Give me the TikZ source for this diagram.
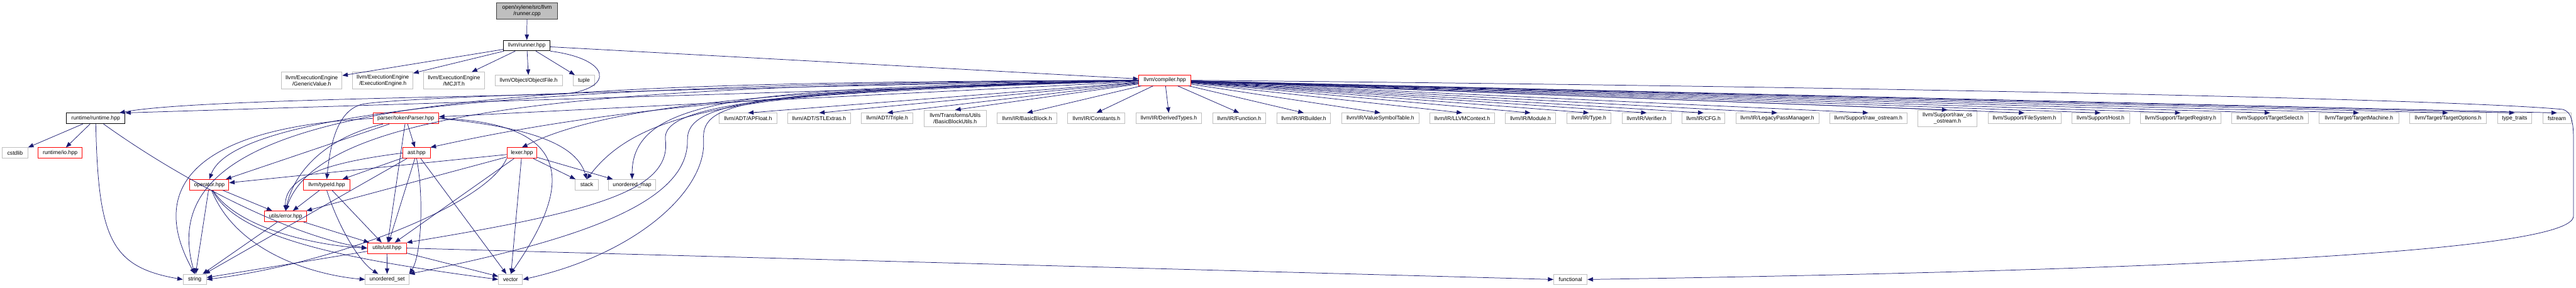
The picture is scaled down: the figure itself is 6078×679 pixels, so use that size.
\documentclass[tikz,border=0pt]{standalone}
\usepackage{fontspec}
\setmainfont{Liberation Sans}
\usepackage{xcolor}
\usetikzlibrary{positioning,arrows.meta}

\definecolor{grey75}{HTML}{BFBFBF}
\definecolor{edgeblue}{HTML}{191970}
\definecolor{rootedge}{HTML}{404040}

\begin{document}
\begin{tikzpicture}[x=1pt, y=-1pt, node distance=24pt,
  font=\fontsize{12.9}{15}\selectfont,
  hdr/.style={draw=#1, line width=1.3pt, fill=white, inner sep=0pt, minimum height=25pt, align=center},
  hdr/.default=grey75, two/.style={minimum height=39pt},
  arr/.style={draw=edgeblue, line width=1.1pt, -{Triangle[length=13pt, width=10pt]}}]
\useasboundingbox (0,0) rectangle (6078,679);
% top: the file and its header
\node[hdr=rootedge, fill=grey75, two, minimum width=143pt] (root) at (1243.5,25.5) {open/xylene/src/llvm\\/runner.cpp};
\node[hdr=black, minimum width=110pt] (run) at (1243,107.5) {llvm/runner.hpp};
\node[hdr, two, minimum width=143pt] (gv) at (735.5,190) {llvm/ExecutionEngine\\/GenericValue.h};
\node[hdr, two, minimum width=142pt, right=of gv] (ee) {llvm/ExecutionEngine\\/ExecutionEngine.h};
\node[hdr, two, minimum width=143pt, right=of ee] (mc) {llvm/ExecutionEngine\\/MCJIT.h};
\node[hdr, minimum width=159pt, right=of mc] (obj) {llvm/Object/ObjectFile.h};
\node[hdr, minimum width=51pt, right=of obj] (tup) {tuple};
\node[hdr=red, minimum width=123pt] (cmp) at (2748.5,189.5) {llvm/compiler.hpp};
% row of headers under compiler.hpp
\node[hdr=black, minimum width=138pt] (rt) at (226,279.5) {runtime/runtime.hpp};
\node[hdr=red, minimum width=155pt] (tok) at (957.5,279.5) {parser/tokenParser.hpp};
\node[hdr, minimum width=136pt] (apf) at (1765,279.5) {llvm/ADT/APFloat.h};
\node[hdr, minimum width=148pt, right=24.4pt of apf] (stl) {llvm/ADT/STLExtras.h};
\node[hdr, minimum width=122pt, right=24.4pt of stl] (tri) {llvm/ADT/Triple.h};
\node[hdr, two, minimum width=147pt, right=24.4pt of tri] (bbu) {llvm/Transforms/Utils\\/BasicBlockUtils.h};
\node[hdr, minimum width=141pt, right=24.4pt of bbu] (bb) {llvm/IR/BasicBlock.h};
\node[hdr, minimum width=135pt, right=24.4pt of bb] (cns) {llvm/IR/Constants.h};
\node[hdr, minimum width=155pt, right=24.4pt of cns] (der) {llvm/IR/DerivedTypes.h};
\node[hdr, minimum width=126pt, right=24.4pt of der] (fn) {llvm/IR/Function.h};
\node[hdr, minimum width=127pt, right=24.4pt of fn] (irb) {llvm/IR/IRBuilder.h};
\node[hdr, minimum width=183pt, right=24.4pt of irb] (vst) {llvm/IR/ValueSymbolTable.h};
\node[hdr, minimum width=152pt, right=24.4pt of vst] (ctx) {llvm/IR/LLVMContext.h};
\node[hdr, minimum width=119pt, right=24.4pt of ctx] (mod) {llvm/IR/Module.h};
\node[hdr, minimum width=105pt, right=24.4pt of mod] (typ) {llvm/IR/Type.h};
\node[hdr, minimum width=116pt, right=24.4pt of typ] (ver) {llvm/IR/Verifier.h};
\node[hdr, minimum width=101pt, right=24.4pt of ver] (cfg) {llvm/IR/CFG.h};
\node[hdr, minimum width=196pt, right=24.4pt of cfg] (lpm) {llvm/IR/LegacyPassManager.h};
\node[hdr, minimum width=182pt, right=24.4pt of lpm] (ros) {llvm/Support/raw\_ostream.h};
\node[hdr, two, minimum width=140pt, right=24.4pt of ros] (roos) {llvm/Support/raw\_os\\\_ostream.h};
\node[hdr, minimum width=172pt, right=24.4pt of roos] (fsy) {llvm/Support/FileSystem.h};
\node[hdr, minimum width=136pt, right=24.4pt of fsy] (host) {llvm/Support/Host.h};
\node[hdr, minimum width=190pt, right=24.4pt of host] (treg) {llvm/Support/TargetRegistry.h};
\node[hdr, minimum width=181pt, right=24.4pt of treg] (tsel) {llvm/Support/TargetSelect.h};
\node[hdr, minimum width=187pt, right=24.4pt of tsel] (tmac) {llvm/Target/TargetMachine.h};
\node[hdr, minimum width=182pt, right=24.4pt of tmac] (topt) {llvm/Target/TargetOptions.h};
\node[hdr, minimum width=81pt, right=24.4pt of topt] (tt) {type\_traits};
\node[hdr, minimum width=67pt, right=24.4pt of tt] (fst) {fstream};
% project headers further down
\node[hdr, minimum width=61pt] (cst) at (35.5,361) {cstdlib};
\node[hdr=red, minimum width=104pt] (io) at (142,361) {runtime/io.hpp};
\node[hdr=red, minimum width=64pt] (ast) at (983,361) {ast.hpp};
\node[hdr=red, minimum width=71pt] (lex) at (1231.5,361) {lexer.hpp};
\node[hdr=red, minimum width=92pt] (op) at (494,436) {operator.hpp};
\node[hdr=red, minimum width=110pt] (tid) at (771,436) {llvm/typeId.hpp};
\node[hdr, minimum width=55pt] (stk) at (1384.5,436) {stack};
\node[hdr, minimum width=111pt] (umap) at (1491.5,436) {unordered\_map};
\node[hdr=red, minimum width=100pt] (err) at (674,510.5) {utils/error.hpp};
\node[hdr=red, minimum width=92pt] (utl) at (913,585.5) {utils/util.hpp};
\node[hdr, minimum width=55pt] (str) at (459.5,659.5) {string};
\node[hdr, minimum width=103pt] (uset) at (913.5,659.5) {unordered\_set};
\node[hdr, minimum width=57pt] (vec) at (1204.5,659.5) {vector};
\node[hdr, minimum width=79pt] (fun) at (3705.5,659.5) {functional};
% runner
\draw[arr] (root) -- (run);
\draw[arr] (run) -- (gv); \draw[arr] (run) -- (ee); \draw[arr] (run) -- (mc);
\draw[arr] (run) -- (obj); \draw[arr] (run) -- (tup); \draw[arr] (run) -- (cmp);
\draw[arr] (run.south east) .. controls (1445,140) and (1450,210) .. (1330,222) .. controls (900,232) and (420,240) .. ([xshift=-14pt]rt.north east);
% compiler.hpp, llvm side
\draw[arr] (cmp) -- (apf.north); \draw[arr] (cmp) -- (stl.north); \draw[arr] (cmp) -- (tri.north);
\draw[arr] (cmp) -- (bbu.north); \draw[arr] (cmp) -- (bb.north); \draw[arr] (cmp) -- (cns.north);
\draw[arr] (cmp) -- (der.north); \draw[arr] (cmp) -- (fn.north); \draw[arr] (cmp) -- (irb.north);
\draw[arr] (cmp) -- (vst.north); \draw[arr] (cmp) -- (ctx.north); \draw[arr] (cmp) -- (mod.north);
\draw[arr] (cmp) -- (typ.north); \draw[arr] (cmp) -- (ver.north); \draw[arr] (cmp) -- (cfg.north);
\draw[arr] (cmp) -- (lpm.north); \draw[arr] (cmp) -- (ros.north); \draw[arr] (cmp) -- (roos.north);
\draw[arr] (cmp) -- (fsy.north); \draw[arr] (cmp) -- (host.north); \draw[arr] (cmp) -- (treg.north);
\draw[arr] (cmp) -- (tsel.north); \draw[arr] (cmp) -- (tmac.north); \draw[arr] (cmp) -- (topt.north);
\draw[arr] (cmp) -- (tt.north); \draw[arr] (cmp) -- (fst.north);
\draw[arr] (cmp.east) .. controls (4500,205) and (5800,235) .. (6045,258) .. controls (6068,262) and (6072,290) .. (6072,330) -- (6072,510) .. controls (6072,600) and (5000,640) .. (fun.east);
% compiler.hpp, project side
\draw[arr] (cmp) -- (rt.north east); \draw[arr] (cmp) -- (tok);
\draw[arr] (cmp.west) .. controls (2000,215) and (1500,240) .. (ast.north east);
\draw[arr] (cmp.west) .. controls (1900,210) and (1450,240) .. (lex.north);
\draw[arr] (cmp.west) .. controls (1800,215) and (1520,245) .. (stk.north);
\draw[arr] (cmp.west) .. controls (1800,210) and (1490,220) .. (umap.north);
\draw[arr] (cmp.west) .. controls (1800,205) and (1000,225) .. (860,245) .. controls (800,255) and (780,330) .. (tid.north);
\draw[arr] (cmp.west) .. controls (1500,195) and (560,240) .. (op.north);
\draw[arr] (cmp.west) .. controls (1500,200) and (760,240) .. (err.north);
\draw[arr] (cmp.west) .. controls (1200,195) and (340,220) .. (str.north);
\draw[arr] (cmp.west) .. controls (1800,215) and (1560,250) .. (1570,330) .. controls (1585,450) and (1400,500) .. (utl.north east);
\draw[arr] (cmp.west) .. controls (1800,212) and (1620,240) .. (1622,330) .. controls (1625,470) and (1400,560) .. (uset.north east);
\draw[arr] (cmp.west) .. controls (1750,215) and (1655,240) .. (1660,330) .. controls (1668,450) and (1500,600) .. (vec.east);
% runtime, parser, ast, lexer
\draw[arr] (rt) -- (cst); \draw[arr] (rt) -- (io);
\draw[arr] (rt.south) .. controls (232,560) and (260,630) .. (str.west);
\draw[arr] (rt) .. controls (450,440) and (700,560) .. (utl.west);
\draw[arr] (tok) -- (ast); \draw[arr] (tok) -- (utl); \draw[arr] (tok) -- (op);
\draw[arr] (tok.west) .. controls (480,300) and (340,430) .. (str.north);
\draw[arr] (tok) .. controls (750,330) and (690,420) .. (err.north);
\draw[arr] (tok.east) .. controls (1250,300) and (1360,340) .. (stk.north);
\draw[arr] (tok.east) .. controls (1400,290) and (1320,480) .. (vec.north);
\draw[arr] (ast) -- (tid); \draw[arr] (ast) -- (utl); \draw[arr] (ast) -- (vec); \draw[arr] (ast) -- (str);
\draw[arr] (ast.west) .. controls (800,380) and (670,410) .. (err.north);
\draw[arr] (ast.south) .. controls (1000,460) and (995,600) .. (uset.north east);
\draw[arr] (lex) -- (op); \draw[arr] (lex) -- (err); \draw[arr] (lex) -- (utl);
\draw[arr] (lex) -- (vec); \draw[arr] (lex) -- (stk); \draw[arr] (lex) -- (umap);
\draw[arr] (lex.south west) .. controls (1150,480) and (800,620) .. (str.east);
% lower headers
\draw[arr] (tid) -- (err); \draw[arr] (tid) -- (utl);
\draw[arr] (tid.south) .. controls (800,540) and (850,620) .. (uset);
\draw[arr] (op) -- (str); \draw[arr] (op) -- (err);
\draw[arr] (op) .. controls (560,540) and (750,580) .. (utl.west);
\draw[arr] (op) .. controls (560,600) and (750,650) .. (uset.west);
\draw[arr] (op) .. controls (560,560) and (800,610) .. (vec.west);
\draw[arr] (err) -- (str); \draw[arr] (err) -- (utl);
\draw[arr] (utl) -- (uset); \draw[arr] (utl) -- (vec); \draw[arr] (utl) -- (str); \draw[arr] (utl.east) -- (fun.west);
\end{tikzpicture}
\end{document}
